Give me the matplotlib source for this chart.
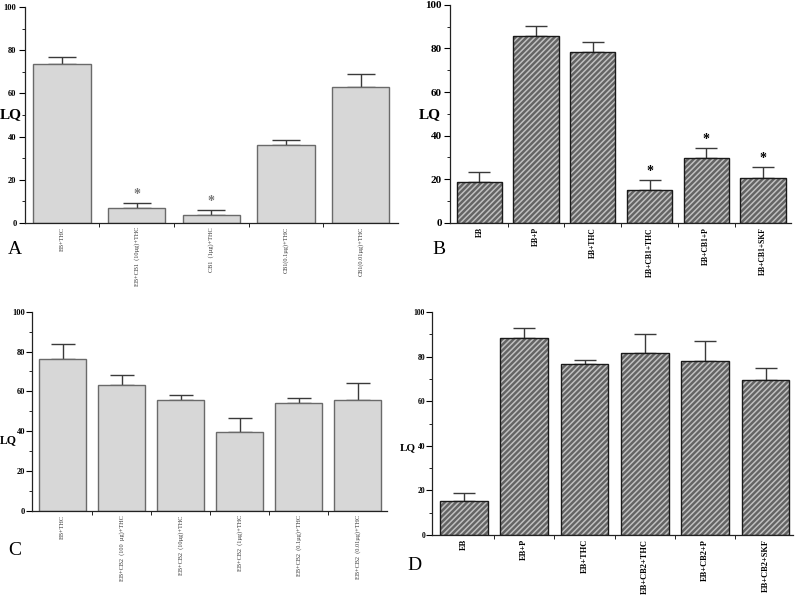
import numpy as np
import matplotlib
matplotlib.use("Agg")
import matplotlib.pyplot as plt

plt.rcParams["font.family"] = ["Liberation Serif", "DejaVu Serif"]
plt.rcParams["hatch.linewidth"] = 1.1

# panel A
labels_a = ["EB+THC", "EB+CB1  (10µg)+THC", "CB1  (1µg)+THC",
            "CB1(0.1µg)+THC", "CB1(0.01µg)+THC"]
means_a = [73.5, 7.0, 3.7, 36.2, 63.1]
sems_a = [3.3, 2.1, 2.2, 2.2, 5.9]
stars_a = [1, 2]

# panel B
labels_b = ["EB", "EB+P", "EB+THC", "EB+CB1+THC", "EB+CB1+P", "EB+CB1+SKF"]
means_b = [18.6, 85.7, 78.2, 15.1, 29.7, 20.6]
sems_b = [4.6, 4.5, 4.6, 4.6, 4.6, 4.9]
stars_b = [3, 4, 5]

# panel C
labels_c = ["EB+THC", "EB+CB2  (100  µg)+THC", "EB+CB2  (10µg)+THC",
            "EB+CB2  (1µg)+THC", "EB+CB2  (0.1µg)+THC", "EB+CB2  (0.01µg)+THC"]
means_c = [76.1, 63.1, 55.8, 39.7, 54.1, 55.8]
sems_c = [7.5, 5.2, 2.3, 6.9, 2.8, 8.6]

# panel D
labels_d = ["EB", "EB+P", "EB+THC", "EB+CB2+THC", "EB+CB2+P", "EB+CB2+SKF"]
means_d = [15.1, 88.4, 76.6, 81.6, 78.2, 69.7]
sems_d = [3.6, 4.6, 1.9, 8.7, 8.7, 5.2]


def panel(ax, labels, means, sems, hatched, stars=(), star_color="k",
          tick_fs=6, label_fs=5, cap=8, width=0.78, bold_x=True, x_color="k",
          pad=2):
    x = np.arange(len(means))
    if hatched:
        ax.bar(x, means, width=width, color="#646464", edgecolor="#c0c0c0",
               hatch="//////", linewidth=0, zorder=2)
        ax.bar(x, means, width=width, fill=False, edgecolor="#1a1a1a",
               linewidth=1.0, zorder=3)
    else:
        ax.bar(x, means, width=width, color="#d7d7d7", edgecolor="#6a6a6a",
               linewidth=1.0, zorder=2)
    ax.errorbar(x, means, yerr=[np.zeros(len(sems)), sems], fmt="none",
                ecolor="#3a3a3a", elinewidth=1.0, capsize=cap, capthick=1.0,
                zorder=1)
    for i in stars:
        ax.text(x[i], means[i] + sems[i] + 4, "*", ha="center", va="center",
                fontsize=10, color=star_color, fontweight="bold", zorder=4)
    ax.set_ylim(0, 100)
    ax.set_xlim(-0.52, len(means) - 0.5)
    ax.set_yticks(np.arange(0, 101, 20))
    ax.set_yticks(np.arange(10, 100, 20), minor=True)
    ax.set_xticks(x)
    ax.set_xticks(x[:-1] + 0.5, minor=True)
    ax.set_xticklabels(labels, rotation=90, fontsize=label_fs,
                       fontweight="bold" if bold_x else "normal", color=x_color)
    for t in ax.get_yticklabels():
        t.set_fontweight("bold")
        t.set_fontsize(tick_fs)
    ax.tick_params(axis="y", which="major", length=4, width=0.8, pad=pad)
    ax.tick_params(axis="y", which="minor", length=2, width=0.6)
    ax.tick_params(axis="x", which="major", length=0, pad=3)
    ax.tick_params(axis="x", which="minor", length=3, width=0.6)
    for s in ["top", "right"]:
        ax.spines[s].set_visible(False)
    for s in ["left", "bottom"]:
        ax.spines[s].set_linewidth(0.9)
        ax.spines[s].set_color("#222222")


fig = plt.figure(figsize=(8, 5.96), dpi=100)

ax_a = fig.add_axes([0.031, 0.626, 0.4665, 0.362])
panel(ax_a, labels_a, means_a, sems_a, False, stars_a, star_color="#777777",
      tick_fs=6, label_fs=4.5, cap=10, width=0.77, bold_x=False, x_color="#333333")
ax_a.set_xlim(-0.5, 4.5)

ax_b = fig.add_axes([0.5625, 0.626, 0.4265, 0.366])
panel(ax_b, labels_b, means_b, sems_b, True, stars_b, tick_fs=8, label_fs=5.5,
      cap=8, width=0.8)

ax_c = fig.add_axes([0.04, 0.1426, 0.444, 0.3344])
panel(ax_c, labels_c, means_c, sems_c, False, tick_fs=6, label_fs=4.5,
      cap=8.5, width=0.8, bold_x=False, x_color="#333333", pad=1)

ax_d = fig.add_axes([0.54, 0.1023, 0.451, 0.3742])
panel(ax_d, labels_d, means_d, sems_d, True, tick_fs=5.5, label_fs=6,
      cap=8, width=0.79, pad=1)
ax_d.set_xlim(-0.53, 5.45)

fig.text(0.000, 0.807, "LQ", fontsize=11, fontweight="bold", va="center")
fig.text(0.523, 0.807, "LQ", fontsize=11, fontweight="bold", va="center")
fig.text(0.000, 0.262, "LQ", fontsize=8.5, fontweight="bold", va="center")
fig.text(0.500, 0.248, "LQ", fontsize=8, fontweight="bold", va="center")

fig.text(0.010, 0.582, "A", fontsize=14, va="center")
fig.text(0.540, 0.582, "B", fontsize=14, va="center")
fig.text(0.010, 0.077, "C", fontsize=14, va="center")
fig.text(0.509, 0.052, "D", fontsize=14, va="center")

fig.savefig("out.png", dpi=100)
